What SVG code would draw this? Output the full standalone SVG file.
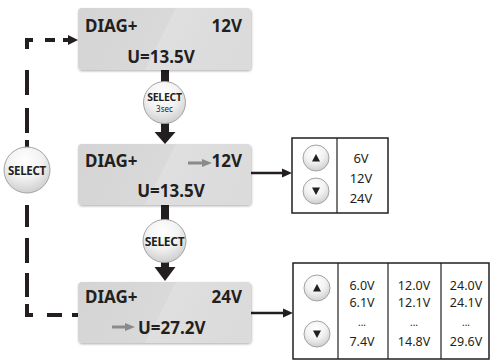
<svg xmlns="http://www.w3.org/2000/svg" width="491" height="361" viewBox="0 0 491 361">
<defs>
<linearGradient id="boxfill" x1="0" y1="0" x2="1" y2="0.18">
<stop offset="0" stop-color="#d4d4d4"/>
<stop offset="0.55" stop-color="#d9d9d9"/>
<stop offset="0.55" stop-color="#dfdfdf"/>
<stop offset="1" stop-color="#dbdbdb"/>
</linearGradient>
<radialGradient id="btn" cx="0.45" cy="0.3" r="0.75">
<stop offset="0" stop-color="#ffffff"/>
<stop offset="0.5" stop-color="#f2f2f2"/>
<stop offset="1" stop-color="#c9c9c9"/>
</radialGradient>
<filter id="shadow" x="-10%" y="-10%" width="120%" height="130%">
<feDropShadow dx="0.6" dy="1.2" stdDeviation="1.2" flood-color="#000" flood-opacity="0.3"/>
</filter>
</defs>
<style>
.box{fill:url(#boxfill);filter:url(#shadow);}
.big{font-family:"Noto Sans","Open Sans",sans-serif;font-weight:bold;font-size:17px;fill:#231f20;}
.val{font-family:"Noto Sans","Open Sans",sans-serif;font-size:13px;fill:#231f20;text-anchor:middle;}
.val2{font-family:"Noto Sans","Open Sans",sans-serif;font-size:12.5px;fill:#231f20;text-anchor:middle;}
.dots{font-family:"Noto Sans","Open Sans",sans-serif;font-size:10px;fill:#231f20;text-anchor:middle;}
.btn{fill:url(#btn);stroke:#a3a3a3;stroke-width:1;}
.sel{font-family:"Noto Sans","Open Sans",sans-serif;font-weight:bold;fill:#231f20;text-anchor:middle;letter-spacing:-0.3px;}
.sec{font-family:"Noto Sans","Open Sans",sans-serif;font-size:8px;fill:#231f20;text-anchor:middle;}
.vbox{fill:#ffffff;stroke:#231f20;stroke-width:1.5;}
.div{stroke:#231f20;stroke-width:1.2;}
.tri{fill:#231f20;}
.conn{stroke:#231f20;fill:none;}
.thick{stroke-width:8;}
.thin{stroke-width:2.5;}
.dash{stroke-width:4;}
.gray{stroke:#8a8a8a;stroke-width:3;fill:none;}
.grayhead{fill:#8a8a8a;}
.head{fill:#231f20;}
</style>

<g id="connectors">
<line class="conn thick" x1="165" y1="70" x2="165" y2="83"/>
<line class="conn thick" x1="165" y1="122" x2="165" y2="133"/>
<polygon class="head" points="154.5,132 175.5,132 165,144"/>
<line class="conn thick" x1="165" y1="205" x2="165" y2="221"/>
<line class="conn thick" x1="165" y1="261" x2="165" y2="268"/>
<polygon class="head" points="154.5,267 175.5,267 165,281"/>
<line class="conn thin" x1="251" y1="173" x2="284" y2="173"/>
<polygon class="head" points="282,168.5 292,173 282,177.5"/>
<line class="conn thin" x1="251" y1="313" x2="285" y2="313"/>
<polygon class="head" points="283,308.5 293,313 283,317.5"/>
<path class="conn dash" d="M27,49 V40 H33"/>
<line class="conn dash" x1="45" y1="40" x2="55" y2="40"/>
<line class="conn dash" x1="63" y1="40" x2="70" y2="40"/>
<polygon class="head" points="68,35 78,40 68,45"/>
<line class="conn dash" x1="27" y1="70" x2="27" y2="95"/>
<line class="conn dash" x1="27" y1="108" x2="27" y2="133"/>
<line class="conn dash" x1="27" y1="140" x2="27" y2="148"/>
<line class="conn dash" x1="27" y1="205" x2="27" y2="227"/>
<line class="conn dash" x1="27" y1="238" x2="27" y2="263"/>
<line class="conn dash" x1="27" y1="273" x2="27" y2="297"/>
<path class="conn dash" d="M27,304 V315 H33"/>
<line class="conn dash" x1="47" y1="315" x2="62" y2="315"/>
<line class="conn dash" x1="72" y1="315" x2="78" y2="315"/>
</g>

<g id="box1">
<rect class="box" x="78" y="8" width="173" height="62" rx="4"/>
<text class="big" x="85" y="32">DIAG+</text>
<text class="big" x="242" y="32" text-anchor="end">12V</text>
<text class="big" x="161" y="63" text-anchor="middle">U=13.5V</text>
</g>

<g id="box2">
<rect class="box" x="78" y="144" width="173" height="61" rx="4"/>
<text class="big" x="85" y="167">DIAG+</text>
<line class="gray" x1="188" y1="163" x2="204" y2="163"/>
<polygon class="grayhead" points="202,159 212,163 202,167"/>
<text class="big" x="242" y="167" text-anchor="end">12V</text>
<text class="big" x="171" y="197" text-anchor="middle">U=13.5V</text>
</g>

<g id="box3">
<rect class="box" x="78" y="282" width="173" height="61" rx="4"/>
<text class="big" x="85" y="303">DIAG+</text>
<text class="big" x="242" y="303" text-anchor="end">24V</text>
<line class="gray" x1="112" y1="327" x2="127" y2="327"/>
<polygon class="grayhead" points="125,323 135,327 125,331"/>
<text class="big" x="138" y="334">U=27.2V</text>
</g>

<g id="select1">
<circle class="btn" cx="164.5" cy="102.5" r="21"/>
<text class="sel" x="164.5" y="101" font-size="10.5">SELECT</text>
<text class="sec" x="164.5" y="111.5">3sec</text>
</g>

<g id="select2">
<circle class="btn" cx="164.5" cy="241" r="21.5"/>
<text class="sel" x="164.5" y="245.5" font-size="12">SELECT</text>
</g>

<g id="select-left">
<circle class="btn" cx="27" cy="170" r="23"/>
<text class="sel" x="27" y="174.5" font-size="11.5">SELECT</text>
</g>

<g id="values1">
<rect class="vbox" x="292" y="138" width="96" height="75"/>
<line class="div" x1="337" y1="138" x2="337" y2="213"/>
<circle class="btn" cx="316" cy="158" r="13"/>
<polygon class="tri" points="312,161.5 316,154 320,161.5"/>
<circle class="btn" cx="316" cy="191" r="13"/>
<polygon class="tri" points="312,187.5 316,195 320,187.5"/>
<text class="val" x="361" y="163">6V</text>
<text class="val" x="361" y="183">12V</text>
<text class="val" x="361" y="203">24V</text>
</g>

<g id="values2">
<rect class="vbox" x="293" y="263" width="196" height="96"/>
<line class="div" x1="338" y1="263" x2="338" y2="359"/>
<line class="div" x1="388" y1="263" x2="388" y2="359"/>
<line class="div" x1="441" y1="263" x2="441" y2="359"/>
<circle class="btn" cx="317" cy="288" r="13"/>
<polygon class="tri" points="313,291.5 317,284 321,291.5"/>
<circle class="btn" cx="317" cy="334" r="13"/>
<polygon class="tri" points="313,330.5 317,338 321,330.5"/>
<text class="val2" x="362" y="290">6.0V</text>
<text class="val2" x="362" y="307">6.1V</text>
<text class="dots" x="362" y="326">...</text>
<text class="val2" x="362" y="346">7.4V</text>
<text class="val2" x="414" y="290">12.0V</text>
<text class="val2" x="414" y="307">12.1V</text>
<text class="dots" x="414" y="326">...</text>
<text class="val2" x="414" y="346">14.8V</text>
<text class="val2" x="466" y="290">24.0V</text>
<text class="val2" x="466" y="307">24.1V</text>
<text class="dots" x="466" y="326">...</text>
<text class="val2" x="466" y="346">29.6V</text>
</g>
</svg>
